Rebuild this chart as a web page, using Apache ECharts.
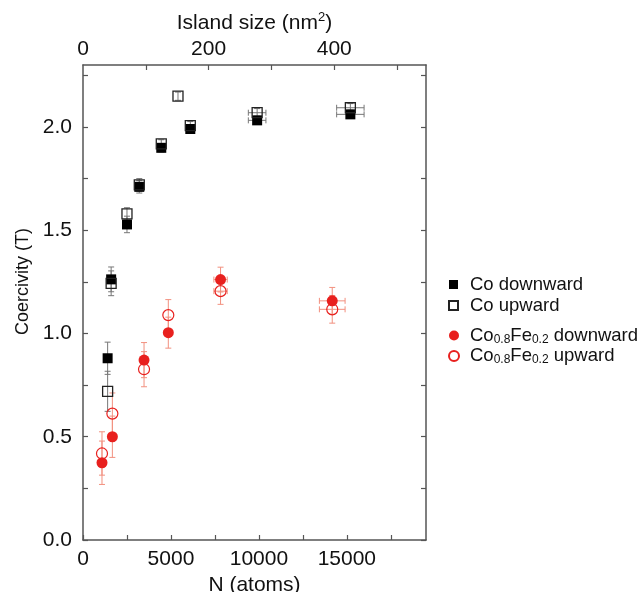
<!DOCTYPE html>
<html>
<head>
<meta charset="utf-8">
<script src="https://cdn.jsdelivr.net/npm/echarts@6/dist/echarts.min.js"></script>
<style>html,body{margin:0;padding:0;background:#fff}#c{width:642px;height:592px}</style>
</head>
<body>
<div id="c"></div>
<script>
// ---- data ----
const coDownN   = [1400, 1600, 2500, 3200, 4450, 6100, 9900, 15200];
const coDownH   = [0.880, 1.262, 1.528, 1.710, 1.899, 1.990, 2.032, 2.061];
const coDownEy  = [0.078, 0.060, 0.040, 0.030, 0.020, 0.020, 0.020, 0.020];
const coDownEx  = [0, 0, 0, 0, 0, 0, 500, 780];

const coUpN     = [1400, 1600, 2500, 3200, 4450, 5400, 6100, 9900, 15200];
const coUpH     = [0.720, 1.243, 1.579, 1.720, 1.918, 2.149, 2.006, 2.069, 2.093];
const coUpEy    = [0.097, 0.060, 0.030, 0.030, 0.020, 0.020, 0.020, 0.020, 0.020];
const coUpEx    = [0, 0, 0, 0, 0, 0, 0, 500, 780];

const feDownN   = [1080, 1670, 3470, 4850, 7820, 14170];
const feDownH   = [0.374, 0.500, 0.871, 1.004, 1.261, 1.158];
const feDownEy  = [0.105, 0.100, 0.085, 0.075, 0.060, 0.065];
const feDownEx  = [0, 0, 0, 0, 380, 730];

const feUpN     = [1080, 1670, 3470, 4850, 7820, 14170];
const feUpH     = [0.419, 0.612, 0.827, 1.089, 1.205, 1.117];
const feUpEy    = [0.105, 0.100, 0.085, 0.075, 0.064, 0.067];
const feUpEx    = [0, 0, 0, 0, 380, 730];

const xTicks = [0, 2500, 5000, 7500, 10000, 12500, 15000, 17500];
const xLabels = [0, 5000, 10000, 15000];
const topTicks = [100, 200, 300, 400, 500];
const topLabels = [0, 200, 400];
const yTicks = [0, 0.25, 0.5, 0.75, 1.0, 1.25, 1.5, 1.75, 2.0, 2.25];
const yLabels = [0, 0.5, 1.0, 1.5, 2.0];

const FONT = '"Liberation Sans", Arial, sans-serif';
const AXC = '#555';
const RED = '#e8201e';
const RED_ERR = '#f2907f';
const GREY_ERR = '#777';

function pts(xs, ys) { return xs.map((x, i) => [x, ys[i]]); }
function errData(xs, ys, ey, ex) { return xs.map((x, i) => [x, ys[i], ey[i], ex[i]]); }

function errSeries(data, color, z) {
  return {
    type: 'custom', xAxisIndex: 0, yAxisIndex: 0, z: z, silent: true,
    data: data,
    encode: { x: 0, y: 1 },
    renderItem: function (params, api) {
      const x = api.value(0), y = api.value(1), ey = api.value(2), ex = api.value(3);
      const children = [];
      const cap = 3;
      const st = { stroke: color, lineWidth: 1 };
      if (ey > 0) {
        const t = api.coord([x, y + ey]), b = api.coord([x, y - ey]);
        children.push({ type: 'line', shape: { x1: t[0], y1: t[1], x2: b[0], y2: b[1] }, style: st });
        children.push({ type: 'line', shape: { x1: t[0] - cap, y1: t[1], x2: t[0] + cap, y2: t[1] }, style: st });
        children.push({ type: 'line', shape: { x1: b[0] - cap, y1: b[1], x2: b[0] + cap, y2: b[1] }, style: st });
      }
      if (ex > 0) {
        const l = api.coord([x - ex, y]), r = api.coord([x + ex, y]);
        children.push({ type: 'line', shape: { x1: l[0], y1: l[1], x2: r[0], y2: r[1] }, style: st });
        children.push({ type: 'line', shape: { x1: l[0], y1: l[1] - cap, x2: l[0], y2: l[1] + cap }, style: st });
        children.push({ type: 'line', shape: { x1: r[0], y1: r[1] - cap, x2: r[0], y2: r[1] + cap }, style: st });
      }
      return { type: 'group', children: children };
    }
  };
}

const subRich = {
  a: { fontSize: 18.5, fontFamily: FONT, color: '#111', lineHeight: 20 },
  s: { fontSize: 12, fontFamily: FONT, color: '#111', verticalAlign: 'bottom', lineHeight: 11 }
};

const chart = echarts.init(document.getElementById('c'), null, { renderer: 'canvas' });
chart.setOption({
  animation: false,
  backgroundColor: '#fff',
  grid: { left: 83, right: 216, top: 65, bottom: 52, show: false, containLabel: false, outerBoundsMode: 'none' },
  legend: [
    {
      orient: 'vertical', left: 443, top: 270, itemWidth: 9, itemHeight: 9, itemGap: 2,
      data: ['Co downward', 'Co upward'],
      textStyle: { fontSize: 18.5, fontFamily: FONT, color: '#111', padding: [0, 0, 0, 7], lineHeight: 18 }
    },
    {
      orient: 'vertical', left: 443, top: 321, itemWidth: 10, itemHeight: 10, itemGap: 1,
      data: ['Co0.8Fe0.2 downward', 'Co0.8Fe0.2 upward'],
      formatter: function (name) {
        return name === 'Co0.8Fe0.2 downward'
          ? '{a|Co}{s|0.8}{a|Fe}{s|0.2}{a| downward}'
          : '{a|Co}{s|0.8}{a|Fe}{s|0.2}{a| upward}';
      },
      textStyle: { fontSize: 18.5, fontFamily: FONT, color: '#111', padding: [0, 0, 0, 6], rich: subRich }
    }
  ],
  xAxis: [
    {
      type: 'value', position: 'bottom', min: 0, max: 19500,
      name: 'N (atoms)', nameLocation: 'middle', nameGap: 29,
      nameTextStyle: { fontSize: 21, fontFamily: FONT, color: '#111' },
      axisLine: { show: true, onZero: false, lineStyle: { color: AXC, width: 1.5 } },
      axisTick: { show: true, inside: true, length: 5, customValues: xTicks, lineStyle: { color: AXC, width: 1.2 } },
      axisLabel: { show: true, customValues: xLabels, margin: 9, fontSize: 21, fontFamily: FONT, color: '#111',
        formatter: function (v) { return String(Math.round(v)); } },
      splitLine: { show: false }
    },
    {
      type: 'value', position: 'top', min: 0, max: 546,
      name: 'Island size (nm{sup|2})', nameLocation: 'middle', nameGap: 25,
      nameTextStyle: { fontSize: 21, fontFamily: FONT, color: '#111',
        rich: { sup: { fontSize: 13, fontFamily: FONT, color: '#111', verticalAlign: 'top', lineHeight: 26 } } },
      axisLine: { show: true, onZero: false, lineStyle: { color: AXC, width: 1.5 } },
      axisTick: { show: true, inside: true, length: 5, customValues: topTicks, lineStyle: { color: AXC, width: 1.2 } },
      axisLabel: { show: true, customValues: topLabels, margin: 5, fontSize: 21, fontFamily: FONT, color: '#111',
        formatter: function (v) { return String(Math.round(v)); } },
      splitLine: { show: false }
    }
  ],
  yAxis: [
    {
      type: 'value', position: 'left', min: 0, max: 2.3,
      name: 'Coercivity (T)', nameLocation: 'middle', nameGap: 50,
      nameTextStyle: { fontSize: 18, fontFamily: FONT, color: '#111', padding: [0, 0, 0, 42] },
      axisLine: { show: true, onZero: false, lineStyle: { color: AXC, width: 1.5 } },
      axisTick: { show: true, inside: true, length: 5, customValues: yTicks, lineStyle: { color: AXC, width: 1.2 } },
      axisLabel: { show: true, customValues: yLabels, margin: 11, fontSize: 21, fontFamily: FONT, color: '#111',
        formatter: function (v) { return v.toFixed(1); } },
      splitLine: { show: false }
    },
    {
      type: 'value', position: 'right', min: 0, max: 2.3,
      axisLine: { show: true, onZero: false, lineStyle: { color: AXC, width: 1.5 } },
      axisTick: { show: true, inside: true, length: 5, customValues: yTicks, lineStyle: { color: AXC, width: 1.2 } },
      axisLabel: { show: false },
      splitLine: { show: false }
    }
  ],
  series: [
    errSeries(errData(coDownN, coDownH, coDownEy, coDownEx), GREY_ERR, 2),
    errSeries(errData(coUpN, coUpH, coUpEy, coUpEx), GREY_ERR, 2),
    errSeries(errData(feDownN, feDownH, feDownEy, feDownEx), RED_ERR, 2),
    errSeries(errData(feUpN, feUpH, feUpEy, feUpEx), RED_ERR, 2),
    {
      name: 'Co downward', type: 'scatter', symbol: 'rect', symbolSize: 10, z: 3,
      data: pts(coDownN, coDownH),
      itemStyle: { color: '#000', opacity: 1 }
    },
    {
      name: 'Co upward', type: 'scatter', symbol: 'rect', symbolSize: 10, z: 4,
      data: pts(coUpN, coUpH),
      itemStyle: { color: 'rgba(255,255,255,0)', borderColor: '#222', borderWidth: 1.3, opacity: 1 }
    },
    {
      name: 'Co0.8Fe0.2 downward', type: 'scatter', symbol: 'circle', symbolSize: 11, z: 3,
      data: pts(feDownN, feDownH),
      itemStyle: { color: RED, opacity: 1 }
    },
    {
      name: 'Co0.8Fe0.2 upward', type: 'scatter', symbol: 'circle', symbolSize: 11, z: 4,
      data: pts(feUpN, feUpH),
      itemStyle: { color: 'rgba(255,255,255,0)', borderColor: RED, borderWidth: 1.2, opacity: 1 }
    }
  ]
});
</script>
</body>
</html>
